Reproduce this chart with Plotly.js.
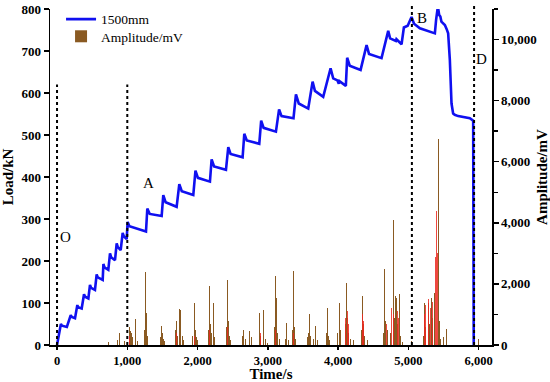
<!DOCTYPE html>
<html>
<head>
<meta charset="utf-8">
<script src="https://cdn.plot.ly/plotly-3.0.1.min.js"></script>
<style>html,body{margin:0;padding:0;background:#fff;}#chart{width:550px;height:382px;}</style>
</head>
<body>
<div id="chart"></div>
<script>
// Load curve (1500mm)
var loadTime = [0,55,70,140,195,210,256,289,300,351,384,400,446,469,485,540,564,580,650,660,675,730,754,770,825,849,865,906,934,950,991,1005,1030,1266,1285,1320,1489,1512,1545,1702,1740,1775,1939,1970,2005,2176,2200,2235,2404,2437,2470,2641,2665,2700,2878,2905,2940,3115,3160,3195,3365,3400,3440,3575,3637,3670,3788,3893,3930,3990,4010,4020,4110,4129,4165,4320,4405,4440,4618,4713,4740,4822,4830,4903,4936,4990,5045,5080,5164,5377,5395,5420,5438,5455,5470,5519,5545,5566,5590,5614,5637,5660,5708,5875,5922,5930];
var loadValue = [0,50,46,43,71,67,64,95,90,87,121,115,111,143,136,131,168,161,155,193,185,179,218,209,202,242,233,226,267,259,252,293,283,270,325,312,307,357,340,329,383,366,357,415,398,389,442,425,417,471,455,447,503,487,479,534,517,508,561,545,540,597,575,563,627,605,591,659,635,630,622,628,617,684,665,655,714,693,683,748,730,724,728,716,756,760,781,765,754,742,775,806,786,782,770,762,752,742,679,575,551,548,545,540,534,0];

// Acoustic emission amplitude (brown spikes)
var ampTime = [730,860,886,960,1010,1030,1048,1065,1080,1110,1150,1240,1252,1262,1276,1290,1380,1470,1489,1500,1515,1530,1690,1702,1715,1740,1760,1780,1800,1930,1953,1970,1985,2000,2150,2167,2180,2200,2224,2240,2410,2428,2440,2455,2470,2640,2660,2680,2745,2770,2860,2878,2900,2945,2960,3000,3100,3115,3125,3140,3160,3250,3267,3290,3350,3371,3385,3400,3560,3575,3589,3610,3650,3680,3700,3830,3845,3860,3880,3990,4016,4030,4100,4121,4135,4150,4170,4220,4330,4349,4360,4380,4420,4640,4666,4680,4700,4740,4784,4800,4820,4832,4850,4870,4890,4920,5040,5210,5235,5250,5282,5300,5330,5350,5377,5424,5440,5460,5500,5543,5993];
var ampValue = [110,150,400,120,350,600,460,380,250,840,120,500,2375,700,1060,300,100,250,620,400,200,120,500,790,300,1170,1150,300,150,300,1390,500,250,150,500,1940,700,400,1360,250,600,2125,800,300,150,300,500,200,460,250,400,1060,300,1130,200,80,600,2265,1530,400,200,200,730,150,500,2430,600,200,250,400,1000,300,200,620,150,400,1200,300,150,400,1390,500,700,2045,900,400,200,150,500,1610,700,300,150,400,2485,800,500,400,4095,900,1600,1550,700,1665,300,100,120,300,1390,600,1390,700,1555,900,1700,6755,800,200,250,515,190];

// Red dense events
var redTime = [1030,1700,1960,2170,2430,2890,3110,3370,4110,4130,4150,4345,4365,4690,4710,4760,4790,4810,4845,4860,5225,5245,5265,5290,5315,5340,5365,5390,5405,5415];
var redValue = [300,400,300,500,600,400,500,400,900,1100,700,1000,800,700,900,1200,1000,1300,1100,900,1000,1300,1100,1500,1200,1400,2000,2865,4400,3000];

// Stage markers and labels
var stageTime = [0, 1000, 5050, 5935];
var stageTop = [0.775, 0.775, 1.018, 1.018];
var labelText = ['O','A','B','C','D'];
var labelTime = [114, 1295, 5190, 5438, 6040];
var labelLoad = [257, 386, 778, 801, 680];

var serif = 'Liberation Serif, Times New Roman, serif';

var traces = [
  {x: loadTime, y: loadValue, type: 'scatter', mode: 'lines', name: '1500mm', yaxis: 'y2', legend: 'legend',
   line: {color: '#1010f0', width: 2.6}, cliponaxis: false},
  {x: ampTime, y: ampValue, type: 'bar', name: 'Amplitude/mV', yaxis: 'y', legend: 'legend2',
   width: 14, marker: {color: '#8a5a22', line: {width: 0}}},
  {x: redTime, y: redValue, type: 'bar', name: 'red', showlegend: false, yaxis: 'y',
   width: 12, marker: {color: 'rgba(235,40,30,0.85)', line: {width: 0}}}
];

var shapes = stageTime.map(function(t, i){
  return {type: 'line', xref: 'x', yref: 'paper', x0: t, x1: t, y0: 0, y1: stageTop[i],
          line: {color: '#000', width: 2, dash: 'dot'}, layer: 'above'};
});

var annotations = labelText.map(function(s, i){
  return {x: labelTime[i], y: labelLoad[i], xref: 'x', yref: 'y2', text: s, showarrow: false,
          font: {family: serif, size: 15, color: '#000'}};
});

var legendFont = {family: serif, size: 13.5, color: '#000'};

var layout = {
  width: 550, height: 382,
  margin: {l: 50, r: 58, t: 9, b: 37, autoexpand: false},
  paper_bgcolor: '#fff', plot_bgcolor: '#fff',
  showlegend: true,
  barmode: 'overlay', bargap: 0,
  legend: {x: 0.025, y: 0.99, yref: 'container', xanchor: 'left', yanchor: 'top', bgcolor: 'rgba(0,0,0,0)', font: legendFont},
  legend2: {x: 0.025, y: 0.945, yref: 'container', xanchor: 'left', yanchor: 'top', bgcolor: 'rgba(0,0,0,0)', font: legendFont},
  xaxis: {range: [-100, 6190], showgrid: false, zeroline: false, showline: true, linecolor: '#000', linewidth: 1.5,
          ticks: 'outside', ticklen: 3, tickwidth: 1.5, tickcolor: '#000', tickvals: [0,1000,2000,3000,4000,5000,6000],
          tickformat: ',d', tickfont: {family: serif, size: 12.5, color: '#000', weight: 'bold'},
          title: {text: 'Time/s', font: {family: serif, size: 15, color: '#000', weight: 'bold'}, standoff: 1}},
  yaxis: {range: [0, 11000], side: 'right', showgrid: false, zeroline: false, showline: true, linecolor: '#000', linewidth: 1.5,
          ticks: 'outside', ticklen: 5, tickwidth: 1.5, tickcolor: '#000', dtick: 2000, tick0: 0, tickformat: ',d',
          minor: {dtick: 1000, ticks: 'outside', ticklen: 4, tickwidth: 1.5, tickcolor: '#000'},
          tickfont: {family: serif, size: 13, color: '#000', weight: 'bold'},
          title: {text: 'Amplitude/mV', font: {family: serif, size: 15, color: '#000', weight: 'bold'}, standoff: 6}},
  yaxis2: {range: [0, 800], overlaying: 'y', side: 'left', showgrid: false, zeroline: false, showline: true, linecolor: '#000', linewidth: 1.5,
           ticks: 'outside', ticklen: 5, tickwidth: 1.5, tickcolor: '#000', dtick: 100, tick0: 0,
           tickfont: {family: serif, size: 13, color: '#000', weight: 'bold'},
           title: {text: 'Load/kN', font: {family: serif, size: 15, color: '#000', weight: 'bold'}, standoff: 6}},
  shapes: shapes,
  annotations: annotations
};

Plotly.newPlot('chart', traces, layout, {displayModeBar: false, staticPlot: true});
</script>
</body>
</html>
